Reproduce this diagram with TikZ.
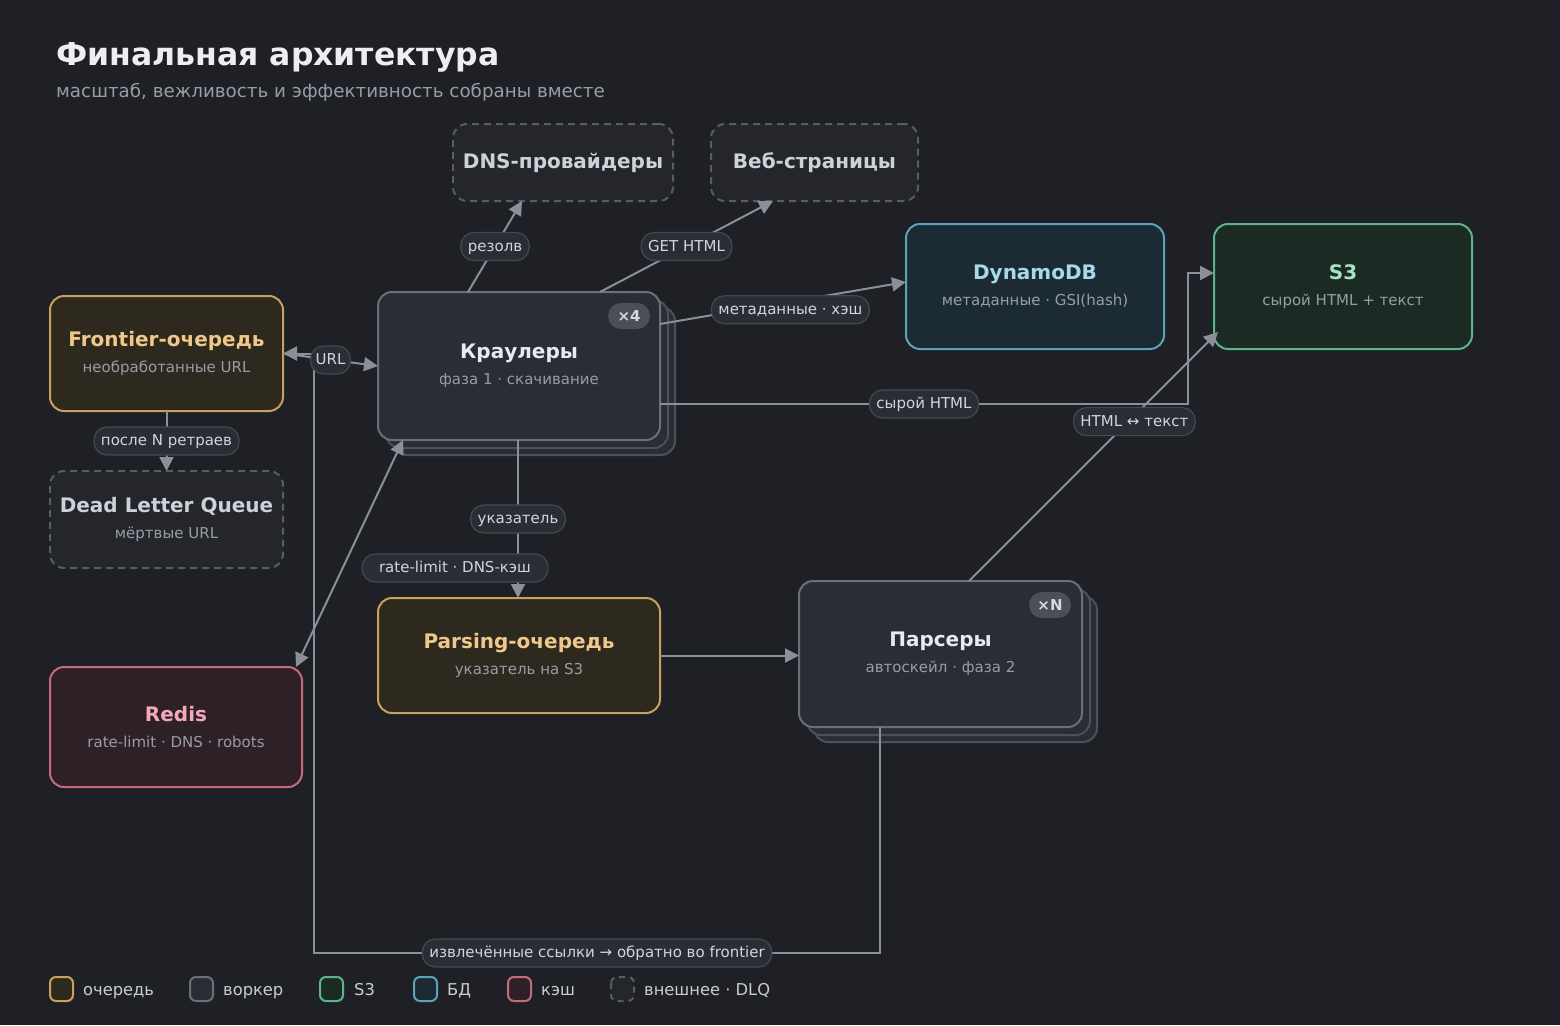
\documentclass[tikz,border=0pt]{standalone}
\usepackage{fontspec}
\setmainfont{DejaVu Sans}
\usetikzlibrary{arrows.meta,calc}
\definecolor{bgc}{HTML}{1E2025}
\definecolor{edgec}{HTML}{8A8F98}
\definecolor{pillf}{HTML}{2A2D33}
\definecolor{pilld}{HTML}{44484F}
\definecolor{pillt}{HTML}{D2D5DA}
\definecolor{titlec}{HTML}{ECEEF1}
\definecolor{subc}{HTML}{989DA5}
\definecolor{qf}{HTML}{2E291E}
\definecolor{qd}{HTML}{C9A15A}
\definecolor{qt}{HTML}{F0C98A}
\definecolor{wf}{HTML}{2A2D33}
\definecolor{wd}{HTML}{6A6F78}
\definecolor{wsd}{HTML}{4C5058}
\definecolor{wt}{HTML}{E8EAEE}
\definecolor{sf}{HTML}{1B2B24}
\definecolor{sd}{HTML}{5AB58A}
\definecolor{st}{HTML}{A6E2C0}
\definecolor{df}{HTML}{1C2B33}
\definecolor{dd}{HTML}{5AA3B9}
\definecolor{dt}{HTML}{A8D9EA}
\definecolor{cf}{HTML}{2E2027}
\definecolor{cd}{HTML}{C96A7C}
\definecolor{ct}{HTML}{F2A9B9}
\definecolor{xf}{HTML}{24262B}
\definecolor{xd}{HTML}{585C64}
\definecolor{xt}{HTML}{CDD1D8}
\definecolor{badgef}{HTML}{4A4F58}
\definecolor{badget}{HTML}{D6D9DE}
\definecolor{legt}{HTML}{C9CDD3}
\newcommand\two[3]{{\color{#1}\fontsize{20}{26}\selectfont\bfseries #2}\\{#3}}
\begin{document}
\begin{tikzpicture}[x=1pt,y=-1pt,
  box/.style={rounded corners=14pt, line width=2pt, outer sep=0pt, inner sep=0pt, align=center, text=subc, font=\fontsize{15}{26}\selectfont},
  qbox/.style={box, fill=qf, draw=qd},
  wbox/.style={box, fill=wf, draw=wd},
  wshadow/.style={box, fill=wf, draw=wsd},
  sbox/.style={box, fill=sf, draw=sd},
  dbox/.style={box, fill=df, draw=dd},
  cbox/.style={box, fill=cf, draw=cd},
  xbox/.style={box, fill=xf, draw=xd, dash pattern=on 7pt off 5pt},
  badge/.style={fill=badgef, rounded corners=13pt, minimum width=42pt, minimum height=26pt, inner sep=0pt, text=badget, font=\fontsize{15}{18}\selectfont\bfseries},
  conn/.style={draw=edgec, line width=2pt},
  arr/.style={-{Triangle[length=14pt,width=14pt]}},
  darr/.style={{Triangle[length=14pt,width=14pt]}-{Triangle[length=14pt,width=14pt]}},
  pill/.style={fill=pillf, draw=pilld, line width=1.2pt, rounded corners=13pt, text=pillt, font=\fontsize{15}{18}\selectfont, inner xsep=7pt, inner ysep=0pt, minimum height=28pt, text height=11pt, text depth=2pt},
  leg/.style={text=legt, font=\fontsize{16.3}{20}\selectfont, anchor=base west, inner sep=0pt},
  swatch/.style={line width=2pt, rounded corners=6pt}
]
\fill[bgc] (0,0) rectangle (1560,1025);
\useasboundingbox (0,0) rectangle (1560,1025);

% titles
\node[anchor=base west, inner sep=0pt, text=titlec, font=\fontsize{31.5}{36}\selectfont\bfseries] (ttl) at (56,65.5) {Финальная архитектура};
\node[anchor=base west, inner sep=0pt, text=subc, font=\fontsize{18.3}{22}\selectfont] (sub) at (56,97.5) {масштаб, вежливость и эффективность собраны вместе};

% external
\node[xbox, minimum width=220pt, minimum height=77pt] (dns) at (563,162.5) {\textcolor{xt}{\fontsize{20}{26}\selectfont\bfseries DNS-провайдеры}};
\node[xbox, minimum width=207pt, minimum height=77pt] (web) at (814.5,162.5) {\textcolor{xt}{\fontsize{20}{26}\selectfont\bfseries Веб-страницы}};

% stores
\node[dbox, minimum width=258pt, minimum height=125pt] (dyn) at (1035,286.5) {\two{dt}{DynamoDB}{метаданные · GSI(hash)}};
\node[sbox, minimum width=258pt, minimum height=125pt] (s3) at (1343,286.5) {\two{st}{S3}{сырой HTML + текст}};

% queues
\node[qbox, minimum width=233pt, minimum height=115pt] (front) at (166.5,353.5) {\two{qt}{Frontier-очередь}{необработанные URL}};
\node[xbox, minimum width=233pt, minimum height=97pt] (dlq) at (166.5,519.5) {\two{xt}{Dead Letter Queue}{мёртвые URL}};
\node[qbox, minimum width=282pt, minimum height=115pt] (parsq) at (519,655.5) {\two{qt}{Parsing-очередь}{указатель на S3}};
\node[cbox, minimum width=252pt, minimum height=120pt] (redis) at (176,727) {\two{ct}{Redis}{rate-limit · DNS · robots}};

% crawlers (stacked)
\node[wshadow, minimum width=282pt, minimum height=148pt] (crS2) at (534,381) {};
\node[wshadow, minimum width=282pt, minimum height=148pt] (crS1) at (527,374) {};
\node[wbox, minimum width=282pt, minimum height=148pt] (crawl) at (519,366) {\two{wt}{Краулеры}{фаза 1 · скачивание}};
\node[badge] (b4) at (629,316) {×4};

% parsers (stacked)
\node[wshadow, minimum width=283pt, minimum height=146pt] (paS2) at (955.5,669) {};
\node[wshadow, minimum width=283pt, minimum height=146pt] (paS1) at (948.5,662) {};
\node[wbox, minimum width=283pt, minimum height=146pt] (pars) at (940.5,654) {\two{wt}{Парсеры}{автоскейл · фаза 2}};
\node[badge] (bN) at (1050,605) {×N};

% connectors
\draw[conn, arr] ($(crawl.north west)+(90,0)$) -- node[pill] (lres) {резолв} ($(dns.south west)+(69,0)$);
\draw[conn, arr] ($(crawl.north west)+(222,0)$) -- node[pill] (lget) {GET HTML} ($(web.south west)+(62,0)$);
\draw[conn, arr] ($(crawl.north east)+(0,32)$) -- node[pill, pos=0.53, yshift=-8pt] (lmeta) {метаданные · хэш} ($(dyn.north west)+(0,58)$);
\coordinate (rawc) at ($(s3.north west)+(-26,49)$);
\draw[conn, arr] ($(crawl.north east)+(0,112)$) -| node[pill, pos=0.25] (lraw) {сырой HTML} (rawc) -- ($(s3.north west)+(0,49)$);
\draw[conn, arr] ($(pars.north west)+(170,0)$) -- node[pill, pos=0.64, xshift=6pt] (lhtml) {HTML ↔ текст} ($(s3.south west)+(4,-17)$);
\draw[conn, arr] (front.east) -- (crawl.west);
\coordinate (lpA) at ($(pars.south west)+(81,226)$);
\coordinate (lpB) at ($(front.east)+(31,599.5)$);
\draw[conn, arr] ($(pars.south west)+(81,0)$) -- (lpA) -- node[pill] (lloop) {извлечённые ссылки → обратно во frontier} (lpB) -- (lpB |- front.east) -- (front.east);
\node[pill, inner xsep=5pt] (lurl) at (330.5,360) {URL};
\draw[conn, arr] (front.south) -- node[pill] (lretry) {после N ретраев} (dlq.north);
\draw[conn, arr] ($(crawl.south west)+(140,0)$) -- node[pill] (lptr) {указатель} ($(parsq.north west)+(140,0)$);
\draw[conn, darr] ($(crawl.south west)+(25,0)$) -- ($(redis.north east)+(-6,0)$);
\node[pill, inner xsep=17pt] (lrl) at (455,568) {rate-limit · DNS-кэш};
\draw[conn, arr] (parsq.east) -- (parsq.east -| pars.west);

% legend
\draw[swatch, draw=qd, fill=qf] (50,977) rectangle (73,1001);
\node[leg] (lg1) at (83,995) {очередь};
\draw[swatch, draw=wd, fill=wf] (190,977) rectangle (213,1001);
\node[leg] (lg2) at (223,995) {воркер};
\draw[swatch, draw=sd, fill=sf] (320,977) rectangle (343,1001);
\node[leg] (lg3) at (354,995) {S3};
\draw[swatch, draw=dd, fill=df] (414,977) rectangle (437,1001);
\node[leg] (lg4) at (447,995) {БД};
\draw[swatch, draw=cd, fill=cf] (508,977) rectangle (531,1001);
\node[leg] (lg5) at (541,995) {кэш};
\draw[swatch, draw=xd, fill=xf, dash pattern=on 6pt off 5pt] (611,977) rectangle (634,1001);
\node[leg] (lg6) at (644,995) {внешнее · DLQ};
\end{tikzpicture}
\end{document}
